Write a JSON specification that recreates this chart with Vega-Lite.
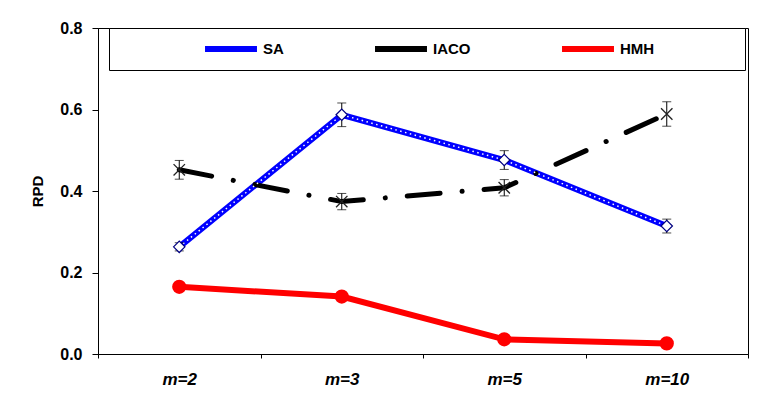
{
  "$schema": "https://vega.github.io/schema/vega-lite/v6.json",
  "width": 650,
  "height": 326,
  "autosize": {"type": "none"},
  "padding": {"left": 98, "top": 28, "right": 10, "bottom": 49},
  "background": "white",
  "config": {
    "font": "Liberation Sans",
    "view": {"stroke": "black", "strokeWidth": 1},
    "axisY": {
      "grid": false,
      "labelFont": "Liberation Sans",
      "labelFontWeight": "bold",
      "labelFontSize": 16,
      "labelColor": "black",
      "labelPadding": 10,
      "tickSize": 6,
      "tickColor": "black",
      "domainColor": "black",
      "titleFont": "Liberation Sans",
      "titleFontSize": 15,
      "titleFontWeight": "bold",
      "titleColor": "black",
      "titlePadding": 14
    },
    "axisX": {
      "grid": false,
      "labelFont": "Liberation Sans",
      "labelFontStyle": "italic",
      "labelFontWeight": "bold",
      "labelFontSize": 17,
      "labelColor": "black",
      "labelAngle": 0,
      "labelPadding": 13,
      "tickBand": "extent",
      "tickSize": 4,
      "tickColor": "black",
      "domainColor": "black"
    }
  },
  "data": {
    "values": [
      {"m": "m=2", "series": "SA", "v": 0.263, "lo": 0.253, "hi": 0.273},
      {"m": "m=3", "series": "SA", "v": 0.587, "lo": 0.558, "hi": 0.616},
      {"m": "m=5", "series": "SA", "v": 0.476, "lo": 0.453, "hi": 0.499},
      {"m": "m=10", "series": "SA", "v": 0.314, "lo": 0.297, "hi": 0.331},
      {"m": "m=2", "series": "IACO", "v": 0.452, "lo": 0.429, "hi": 0.475},
      {"m": "m=3", "series": "IACO", "v": 0.374, "lo": 0.354, "hi": 0.394},
      {"m": "m=5", "series": "IACO", "v": 0.408, "lo": 0.388, "hi": 0.428},
      {"m": "m=10", "series": "IACO", "v": 0.589, "lo": 0.559, "hi": 0.619},
      {"m": "m=2", "series": "HMH", "v": 0.165, "lo": null, "hi": null},
      {"m": "m=3", "series": "HMH", "v": 0.141, "lo": null, "hi": null},
      {"m": "m=5", "series": "HMH", "v": 0.036, "lo": null, "hi": null},
      {"m": "m=10", "series": "HMH", "v": 0.026, "lo": null, "hi": null}
    ]
  },
  "encoding": {
    "x": {
      "field": "m",
      "type": "nominal",
      "sort": ["m=2", "m=3", "m=5", "m=10"],
      "scale": {"paddingInner": 0, "paddingOuter": 0},
      "title": null
    }
  },
  "layer": [
    {
      "transform": [{"filter": "datum.series !== 'IACO'"}],
      "mark": {"type": "line", "strokeWidth": 6, "strokeCap": "butt"},
      "encoding": {
        "y": {
          "field": "v",
          "type": "quantitative",
          "scale": {"domain": [0, 0.8], "nice": false},
          "title": "RPD",
          "axis": {"values": [0, 0.2, 0.4, 0.6, 0.8], "format": ".1f"}
        },
        "color": {
          "field": "series",
          "type": "nominal",
          "scale": {"domain": ["SA", "IACO", "HMH"], "range": ["#0000ff", "#000000", "#ff0000"]},
          "legend": {
            "orient": "none",
            "legendX": 11,
            "legendY": 0,
            "direction": "horizontal",
            "columns": 3,
            "title": " ",
            "titleOrient": "right",
            "titlePadding": 78,
            "titleFontSize": 10,
            "strokeColor": "black",
            "fillColor": "white",
            "padding": 13,
            "clipHeight": 16,
            "symbolType": "stroke",
            "symbolSize": 2700,
            "symbolStrokeWidth": 6,
            "symbolOffset": 80,
            "labelOffset": 3,
            "columnPadding": 8,
            "labelFont": "Liberation Sans",
            "labelFontSize": 15,
            "labelFontWeight": "bold",
            "labelColor": "black"
          }
        }
      }
    },
    {
      "transform": [{"filter": "datum.series === 'IACO'"}],
      "mark": {"type": "line", "strokeWidth": 5, "color": "black", "strokeCap": "round", "strokeDash": [33, 22, 0.1, 22]},
      "encoding": {
        "y": {"field": "v", "type": "quantitative", "title": "RPD"}
      }
    },
    {
      "transform": [{"filter": "datum.series === 'SA'"}],
      "mark": {"type": "line", "strokeWidth": 1.5, "color": "white", "strokeDash": [1.5, 3.5]},
      "encoding": {
        "y": {"field": "v", "type": "quantitative", "title": "RPD"}
      }
    },
    {
      "transform": [{"filter": "datum.lo != null"}],
      "mark": {"type": "rule", "color": "black", "strokeWidth": 1},
      "encoding": {
        "y": {"field": "lo", "type": "quantitative", "title": "RPD"},
        "y2": {"field": "hi"}
      }
    },
    {
      "transform": [{"filter": "datum.lo != null"}],
      "mark": {"type": "tick", "color": "black", "size": 9, "thickness": 1, "orient": "horizontal"},
      "encoding": {
        "y": {"field": "lo", "type": "quantitative", "title": "RPD"}
      }
    },
    {
      "transform": [{"filter": "datum.hi != null"}],
      "mark": {"type": "tick", "color": "black", "size": 9, "thickness": 1, "orient": "horizontal"},
      "encoding": {
        "y": {"field": "hi", "type": "quantitative", "title": "RPD"}
      }
    },
    {
      "transform": [{"filter": "datum.series === 'SA'"}],
      "mark": {"type": "point", "shape": "diamond", "filled": true, "fill": "white", "stroke": "#000080", "strokeWidth": 1.2, "size": 130, "opacity": 1},
      "encoding": {
        "y": {"field": "v", "type": "quantitative", "title": "RPD"}
      }
    },
    {
      "transform": [{"filter": "datum.series === 'IACO'"}],
      "mark": {"type": "point", "shape": "M-1,-1L1,1M-1,1L1,-1", "filled": false, "stroke": "#222222", "strokeWidth": 1.3, "size": 130, "opacity": 1},
      "encoding": {
        "y": {"field": "v", "type": "quantitative", "title": "RPD"}
      }
    },
    {
      "transform": [{"filter": "datum.series === 'HMH'"}],
      "mark": {"type": "point", "shape": "circle", "filled": true, "fill": "#ff0000", "stroke": "#ff0000", "size": 150, "opacity": 1},
      "encoding": {
        "y": {"field": "v", "type": "quantitative", "title": "RPD"}
      }
    }
  ]
}
